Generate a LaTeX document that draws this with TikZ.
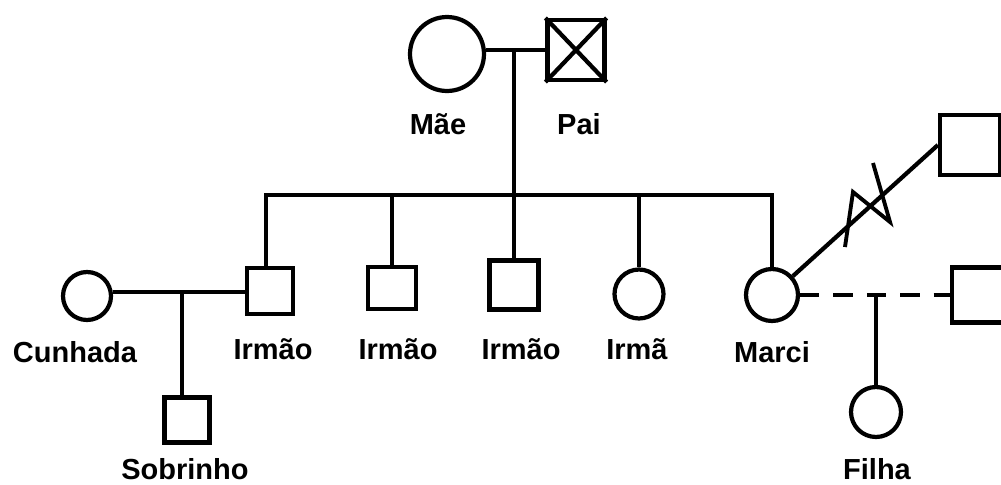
\documentclass[tikz,border=0pt]{standalone}
\usepackage{fontspec}
\setmainfont{Liberation Sans}

\tikzset{
  fem/.style={circle,draw,line width=2.4pt,inner sep=0pt},
  masc/.style={rectangle,draw,line width=2.4pt,inner sep=0pt},
  nome/.style={font=\fontsize{16.5}{18}\selectfont\bfseries,inner sep=0pt},
  liga/.style={line width=2.4pt}
}

\begin{document}
\begin{tikzpicture}[x=0.02cm,y=-0.02cm]
\clip (0,0) rectangle (1001,484);
\fill[white] (0,0) rectangle (1001,484);

  \node[fem,minimum size=1.48cm] (mae) at (447,54) {};
  \node[masc,minimum width=1.14cm,minimum height=1.2cm] (pai) at (576,50) {};
  \draw[liga] (pai.north west)--(pai.south east) (pai.north east)--(pai.south west);
  \draw[liga] (mae.east |- pai)--(pai);

  \node[masc,minimum size=0.92cm] (irmao1) at (270,291) {};
  \node[masc,minimum width=0.96cm,minimum height=0.84cm] (irmao2) at (392,288) {};
  \node[masc,minimum size=0.98cm] (irmao3) at (514,285) {};
  \node[fem,minimum size=0.98cm] (irma) at (639,294) {};
  \node[fem,minimum size=1.04cm] (marci) at (772,295) {};

  \coordinate (pj) at (514,50);
  \coordinate (sibL) at (266,195);
  \coordinate (sibR) at (772,195);
  \draw[liga] (pj)--(irmao3);
  \draw[liga] (irmao1.north -| sibL)--(sibL)--(sibR)--(marci);
  \draw[liga] (irmao2)--(irmao2 |- sibL);
  \draw[liga] (irma)--(irma |- sibL);

  \node[fem,minimum size=0.96cm] (cunhada) at (87,296) {};
  \node[masc,minimum size=0.9cm] (sobrinho) at (187,420) {};
  \coordinate (cj) at (182,292);
  \draw[liga] (cunhada.east |- cj)--(irmao1.west |- cj);
  \draw[liga] (cj)--(cj |- sobrinho.north);

  \node[masc,minimum size=1.2cm] (ex1) at (970,145) {};
  \node[masc,minimum width=1.12cm,minimum height=1.1cm] (ex2) at (980,295) {};
  \node[fem,minimum size=1cm] (filha) at (876,412) {};
  \coordinate (fj) at (876,295);
  \draw[liga] (marci)--(ex1.west);
  \draw[line width=2.2pt] (845,247)--(853,192)--(890,222)--(873,163);
  \draw[liga,dash pattern=on 11pt off 8pt] (marci.east)--(ex2.west);
  \draw[liga] (fj)--(filha);

  \node[nome] (lmae) at (438,124) {Mãe};
  \node[nome] (lpai) at (579,124) {Pai};
  \node[nome] (lcunhada) at (75,352) {Cunhada};
  \node[nome] (lirmao1) at (273,349) {Irmão};
  \node[nome] (lirmao2) at (398,349) {Irmão};
  \node[nome] (lirmao3) at (521,349) {Irmão};
  \node[nome] (lirma) at (637,349) {Irmã};
  \node[nome] (lmarci) at (772,352) {Marci};
  \node[nome] (lsobrinho) at (185,469) {Sobrinho};
  \node[nome] (lfilha) at (877,469) {Filha};
\end{tikzpicture}
\end{document}
